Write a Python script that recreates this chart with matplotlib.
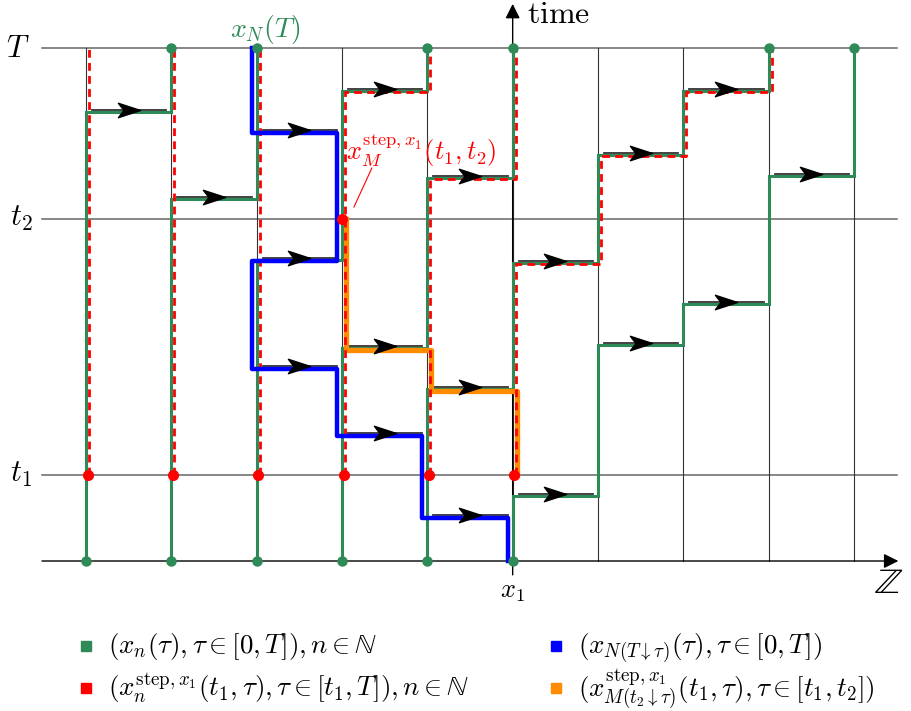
import matplotlib
matplotlib.use('Agg')
import matplotlib.pyplot as plt
from matplotlib.path import Path

plt.rcParams['mathtext.fontset'] = 'cm'

# ---------------- data (columns of Z, times in units of T) ----------------
T = 1.0
t1 = 0.168
t2 = 0.667
columns = list(range(10))
x1_col = 5

# Poisson arrows: from column arrow_src to arrow_src+1 at arrow_time
arrow_src = [0, 1, 2, 3, 4, 2, 5, 6, 7, 8, 2, 3, 4, 3, 4, 5, 6, 7]
arrow_time = [0.88, 0.71, 0.84, 0.92, 0.75, 0.59, 0.585, 0.795, 0.92, 0.755,
              0.38, 0.42, 0.34, 0.25, 0.09, 0.13, 0.425, 0.505]

# green particles x_n(tau): start column and jump times
green_start = [0, 1, 2, 3, 4, 5]
green_jumps = [[0.88], [0.71], [0.59, 0.92], [0.42, 0.75],
               [0.34, 0.585, 0.795, 0.92], [0.13, 0.425, 0.505, 0.755]]

# red step particles started at t1
red_start = [0, 1, 2, 3, 4, 5]
red_jumps = [[], [], [], [0.92], [0.75], [0.585, 0.795, 0.92]]

# blue backward path from x_N(T)
blue_start = 2
blue_times = [0.84, 0.59, 0.38, 0.25, 0.09]
blue_cols = [3, 2, 3, 4, 5]

# orange backward path from x_M(t1,t2)
orange_start = 3
orange_times = [0.42, 0.34]
orange_cols = [4, 5]

GREEN = '#2e8b57'
RED = '#ff0000'
BLUE = '#0000ff'
ORANGE = '#ff8c00'

legend_labels = [r'$(x_n(\tau),\tau\in[0,T]),n\in\mathbb{N}$',
                 r'$(x_n^{\mathrm{step},x_1}(t_1,\tau),\tau\in[t_1,T]),n\in\mathbb{N}$',
                 r'$(x_{N(T\downarrow\tau)}(\tau),\tau\in[0,T])$',
                 r'$(x^{\mathrm{step},x_1}_{M(t_2\downarrow\tau)}(t_1,\tau),\tau\in[t_1,t_2])$']
legend_colors = [GREEN, RED, BLUE, ORANGE]


def up_path(col, t0, jumps, t_end, dx, dt):
    xs, ys, c = [col + dx], [t0], col
    for s in jumps:
        xs += [c + dx, c + 1 + dx]
        ys += [s + dt, s + dt]
        c += 1
    xs.append(c + dx)
    ys.append(t_end)
    return xs, ys, c


def down_path(col, t0, times, cols, t_end, dx, dt):
    xs, ys, c = [col + dx], [t0], col
    for s, nc in zip(times, cols):
        xs += [c + dx, nc + dx]
        ys += [s + dt, s + dt]
        c = nc
    xs.append(c + dx)
    ys.append(t_end)
    return xs, ys


fig = plt.figure(figsize=(9.11, 7.11), dpi=100)
ax = fig.add_axes([0, 0, 1, 1])
ax.set_xlim(-1.008, 9.668)
ax.set_ylim(-0.2924, 1.0936)
ax.axis('off')

# grid
for lev in [T, t2, t1]:
    ax.plot([-0.516, 9.504], [lev, lev], color='#666666', lw=1.1, zorder=1)
for c in columns:
    ax.plot([c, c], [0, T], color='#333333', lw=0.8, zorder=1)
ax.annotate('', xy=(9.52, 0), xytext=(-0.516, 0),
            arrowprops=dict(arrowstyle='-|>', color='black', lw=1.0,
                            mutation_scale=22, shrinkA=0, shrinkB=0), zorder=2)
ax.annotate('', xy=(x1_col, 1.086), xytext=(x1_col, -0.027),
            arrowprops=dict(arrowstyle='-|>', color='black', lw=1.0,
                            mutation_scale=22, shrinkA=0, shrinkB=0), zorder=2)

# arrows
stealth = Path([(1, 0), (-1, 0.65), (-0.5, 0), (-1, -0.65), (1, 0)],
               [Path.MOVETO, Path.LINETO, Path.LINETO, Path.LINETO, Path.CLOSEPOLY])
for c, s in zip(arrow_src, arrow_time):
    ax.plot([c + 0.07, c + 0.94], [s, s], color='#333333', lw=1.3, zorder=2)
    ax.plot([c + 0.5], [s], marker=stealth, markersize=16, color='black',
            linestyle='none', zorder=7)

# green
for c0, jumps in zip(green_start, green_jumps):
    xs, ys, cend = up_path(c0, 0, jumps, T, 0, -0.004)
    ax.plot(xs, ys, color=GREEN, lw=2.2, zorder=3, solid_joinstyle='miter')
    ax.plot([c0, cend], [0, T], 'o', color=GREEN, ms=6.5, zorder=8)

# orange
xs, ys = down_path(orange_start, t2, orange_times, orange_cols, t1, 0.047, -0.009)
ax.plot(xs, ys, color=ORANGE, lw=3.8, zorder=3.5, solid_joinstyle='round')

# red dashed
for c0, jumps in zip(red_start, red_jumps):
    xs, ys, cend = up_path(c0, t1, jumps, T, 0.035, -0.006)
    ax.plot(xs, ys, color=RED, lw=2.0, dashes=(2.8, 1.9), zorder=4)
    ax.plot([c0 + 0.02], [t1], 'o', color=RED, ms=7, zorder=8)

# blue
xs, ys = down_path(blue_start, T, blue_times, blue_cols, 0, -0.059, -0.006)
ax.plot(xs, ys, color=BLUE, lw=3.2, zorder=5, solid_joinstyle='round')

ax.plot([orange_start], [t2], 'o', color=RED, ms=7, zorder=8)

# labels
ax.text(-0.80, T, r'$T$', fontsize=22, ha='center', va='center')
ax.text(-0.76, t2, r'$t_2$', fontsize=22, ha='center', va='center')
ax.text(-0.76, t1, r'$t_1$', fontsize=22, ha='center', va='center')
ax.text(2.1, 1.037, r'$x_N(T)$', fontsize=20, color=GREEN, ha='center', va='center')
ax.text(5.17, 1.066, r'$\mathrm{time}$', fontsize=23, ha='left', va='center')
ax.text(x1_col, -0.058, r'$x_1$', fontsize=19, ha='center', va='center')
ax.text(9.40, -0.043, r'$\mathbb{Z}$', fontsize=26, ha='center', va='center')
ax.text(3.05, 0.80, r'$x_M^{\mathrm{step},x_1}(t_1,t_2)$', fontsize=19, color=RED,
        ha='left', va='center')
ax.plot([3.35, 3.14], [0.766, 0.690], color=RED, lw=0.8, zorder=6)

# legend (two columns, two rows)
leg_x_marker = [0.0, 0.0, 5.51, 5.51]
leg_x_text = [0.258, 0.258, 5.766, 5.766]
leg_y_marker = [-0.1657, -0.2476, -0.1657, -0.2476]
leg_y_base = [-0.1793, -0.2632, -0.1793, -0.2632]
for xm, xt, ym, yb, lab, col in zip(leg_x_marker, leg_x_text, leg_y_marker,
                                     leg_y_base, legend_labels, legend_colors):
    ax.plot([xm], [ym], marker='s', color=col, ms=7, linestyle='none')
    ax.text(xt, yb, lab, fontsize=19.5, ha='left', va='baseline')

fig.savefig('out.png', dpi=100)
